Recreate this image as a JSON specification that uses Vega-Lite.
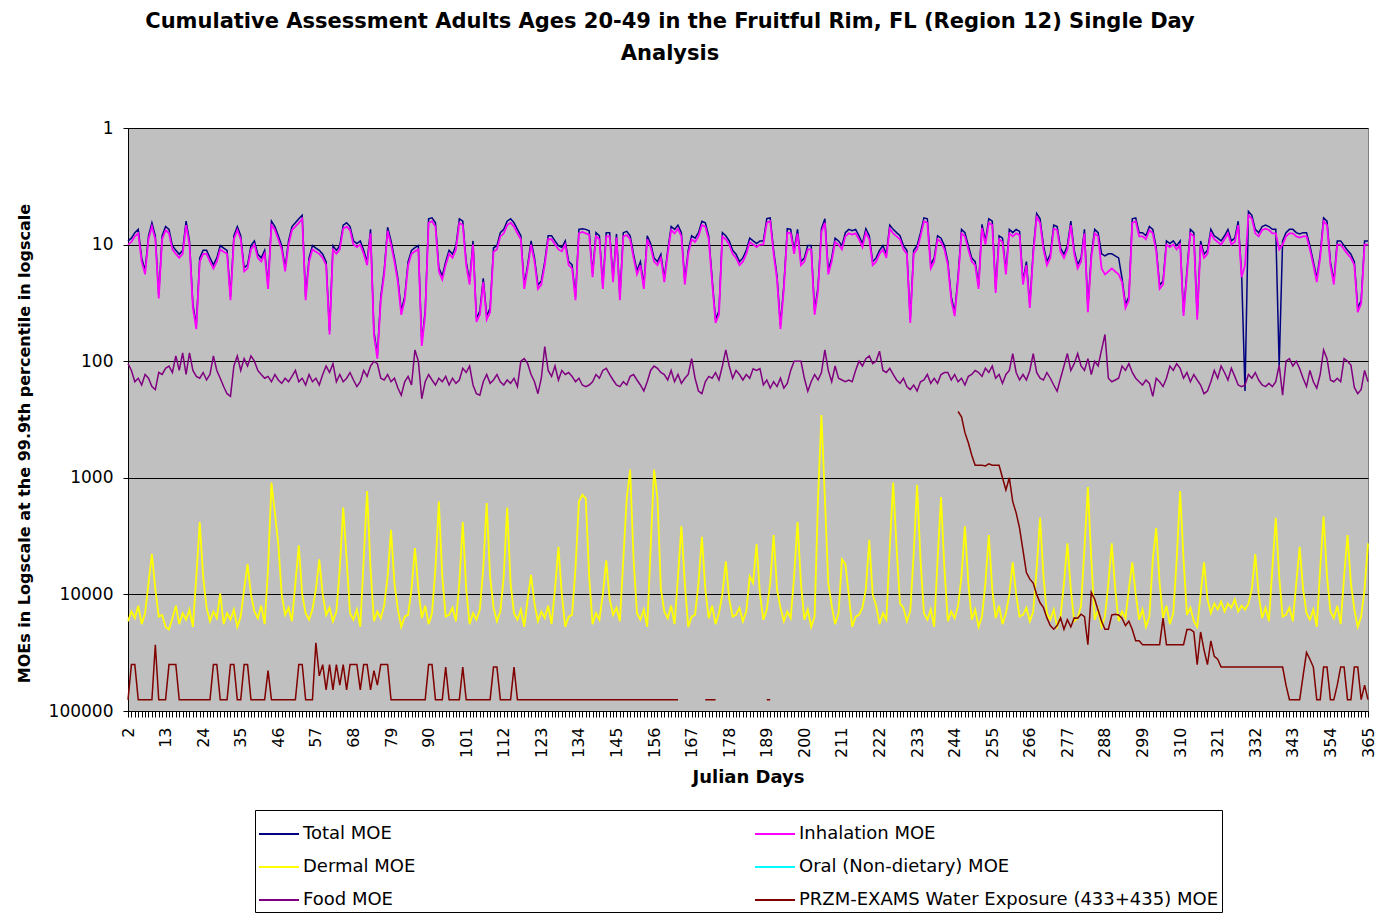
{
"$schema":"https://vega.github.io/schema/vega-lite/v6.json",
"width":1240,"height":583,
"autosize":{"type":"none"},
"padding":{"left":128,"top":128,"right":12,"bottom":205},
"background":"white",
"config":{"view":{"fill":"#C0C0C0","stroke":"#808080"},"font":"DejaVu Sans"},
"title":{"text":["Cumulative Assessment Adults Ages 20-49 in the Fruitful Rim, FL (Region 12) Single Day","Analysis"],"fontSize":21,"fontWeight":"bold","color":"black","anchor":"middle","dx":-78,"lineHeight":32,"offset":55},
"data":{"values":[
{"d":2,"t":9.3,"i":10,"m":17000,"f":105,"w":80000},
{"d":3,"t":8.8,"i":9.5,"m":14000,"f":120,"w":40000},
{"d":4,"t":7.9,"i":8.5,"m":16000,"f":150,"w":40000},
{"d":5,"t":7.4,"i":8,"m":12500,"f":140,"w":80000},
{"d":6,"t":13,"i":14,"m":18000,"f":160,"w":80000},
{"d":7,"t":16.7,"i":18,"m":14500,"f":130,"w":80000},
{"d":8,"t":8.4,"i":9,"m":8000,"f":140,"w":80000},
{"d":9,"t":6.5,"i":7,"m":4500,"f":165,"w":80000},
{"d":10,"t":8.4,"i":9,"m":9000,"f":175,"w":27000},
{"d":11,"t":27,"i":29,"m":15500,"f":125,"w":80000},
{"d":12,"t":8.4,"i":9,"m":15000,"f":130,"w":80000},
{"d":13,"t":7,"i":7.5,"m":19000,"f":115,"w":80000},
{"d":14,"t":7.4,"i":8,"m":20000,"f":110,"w":40000},
{"d":15,"t":10.2,"i":11,"m":16000,"f":125,"w":40000},
{"d":16,"t":11.2,"i":12,"m":12500,"f":90,"w":40000},
{"d":17,"t":12.1,"i":13,"m":18000,"f":120,"w":80000},
{"d":18,"t":11.2,"i":12,"m":14500,"f":85,"w":80000},
{"d":19,"t":6.3,"i":6.8,"m":16500,"f":130,"w":80000},
{"d":20,"t":9.3,"i":10,"m":13500,"f":85,"w":80000},
{"d":21,"t":32.6,"i":35,"m":19000,"f":120,"w":80000},
{"d":22,"t":49,"i":53,"m":7000,"f":135,"w":80000},
{"d":23,"t":13,"i":14,"m":2400,"f":140,"w":80000},
{"d":24,"t":11.2,"i":12,"m":7000,"f":125,"w":80000},
{"d":25,"t":11.2,"i":12,"m":13000,"f":145,"w":80000},
{"d":26,"t":13,"i":14,"m":17000,"f":130,"w":80000},
{"d":27,"t":14.9,"i":16,"m":14000,"f":90,"w":40000},
{"d":28,"t":13,"i":14,"m":16000,"f":120,"w":40000},
{"d":29,"t":10.2,"i":11,"m":9800,"f":140,"w":80000},
{"d":30,"t":10.7,"i":11.5,"m":18000,"f":165,"w":80000},
{"d":31,"t":11.2,"i":12,"m":14500,"f":190,"w":80000},
{"d":32,"t":28,"i":30,"m":16500,"f":200,"w":40000},
{"d":33,"t":8.4,"i":9,"m":13500,"f":110,"w":40000},
{"d":34,"t":7,"i":7.5,"m":19000,"f":90,"w":80000},
{"d":35,"t":8.4,"i":9,"m":15500,"f":120,"w":80000},
{"d":36,"t":15.8,"i":17,"m":9000,"f":95,"w":40000},
{"d":37,"t":14.9,"i":16,"m":5500,"f":110,"w":40000},
{"d":38,"t":10.2,"i":11,"m":10000,"f":90,"w":80000},
{"d":39,"t":9.3,"i":10,"m":14000,"f":100,"w":80000},
{"d":40,"t":12.1,"i":13,"m":16000,"f":120,"w":80000},
{"d":41,"t":13,"i":14,"m":12500,"f":130,"w":80000},
{"d":42,"t":11.2,"i":12,"m":18000,"f":140,"w":80000},
{"d":43,"t":22.3,"i":24,"m":6000,"f":135,"w":45000},
{"d":44,"t":6.3,"i":6.8,"m":1100,"f":150,"w":80000},
{"d":45,"t":7,"i":7.5,"m":2000,"f":130,"w":80000},
{"d":46,"t":8.4,"i":9,"m":3700,"f":145,"w":80000},
{"d":47,"t":10.2,"i":11,"m":10000,"f":155,"w":80000},
{"d":48,"t":15.8,"i":17,"m":15000,"f":140,"w":80000},
{"d":49,"t":9.3,"i":10,"m":13000,"f":150,"w":80000},
{"d":50,"t":7,"i":7.5,"m":17000,"f":135,"w":80000},
{"d":51,"t":6.5,"i":7,"m":8000,"f":120,"w":80000},
{"d":52,"t":6,"i":6.5,"m":3800,"f":150,"w":40000},
{"d":53,"t":5.6,"i":6,"m":10000,"f":140,"w":40000},
{"d":54,"t":28,"i":30,"m":14500,"f":160,"w":80000},
{"d":55,"t":13,"i":14,"m":16500,"f":130,"w":80000},
{"d":56,"t":10.2,"i":11,"m":13500,"f":150,"w":80000},
{"d":57,"t":10.7,"i":11.5,"m":9000,"f":140,"w":26000},
{"d":58,"t":11.2,"i":12,"m":5000,"f":160,"w":50000},
{"d":59,"t":12.1,"i":13,"m":10000,"f":130,"w":40000},
{"d":60,"t":14,"i":15,"m":15000,"f":110,"w":66000},
{"d":61,"t":55,"i":59,"m":13000,"f":125,"w":40000},
{"d":62,"t":10.2,"i":11,"m":17000,"f":105,"w":66000},
{"d":63,"t":11.2,"i":12,"m":14000,"f":150,"w":40000},
{"d":64,"t":10.2,"i":11,"m":6000,"f":130,"w":60000},
{"d":65,"t":6.8,"i":7.3,"m":1800,"f":150,"w":40000},
{"d":66,"t":6.5,"i":7,"m":5000,"f":140,"w":66000},
{"d":67,"t":7,"i":7.5,"m":14500,"f":125,"w":40000},
{"d":68,"t":9.3,"i":10,"m":16500,"f":145,"w":40000},
{"d":69,"t":9.8,"i":10.5,"m":13500,"f":165,"w":40000},
{"d":70,"t":9.3,"i":10,"m":19000,"f":150,"w":66000},
{"d":71,"t":11.2,"i":12,"m":5000,"f":120,"w":40000},
{"d":72,"t":14,"i":15,"m":1300,"f":135,"w":40000},
{"d":73,"t":7.4,"i":8,"m":6000,"f":110,"w":66000},
{"d":74,"t":56,"i":60,"m":17000,"f":100,"w":45000},
{"d":75,"t":88,"i":95,"m":14000,"f":105,"w":60000},
{"d":76,"t":28,"i":30,"m":16000,"f":140,"w":40000},
{"d":77,"t":16.7,"i":18,"m":12500,"f":145,"w":40000},
{"d":78,"t":7.1,"i":7.6,"m":7000,"f":130,"w":40000},
{"d":79,"t":9.3,"i":10,"m":2800,"f":150,"w":80000},
{"d":80,"t":13,"i":14,"m":8000,"f":140,"w":80000},
{"d":81,"t":19.5,"i":21,"m":13500,"f":170,"w":80000},
{"d":82,"t":37,"i":40,"m":19000,"f":196,"w":80000},
{"d":83,"t":28,"i":30,"m":15500,"f":150,"w":80000},
{"d":84,"t":14,"i":15,"m":15000,"f":135,"w":80000},
{"d":85,"t":11.2,"i":12,"m":9000,"f":160,"w":80000},
{"d":86,"t":10.6,"i":11.4,"m":4000,"f":80,"w":80000},
{"d":87,"t":10.2,"i":11,"m":9000,"f":100,"w":80000},
{"d":88,"t":69,"i":74,"m":16000,"f":210,"w":80000},
{"d":89,"t":37,"i":40,"m":12500,"f":150,"w":80000},
{"d":90,"t":6,"i":6.5,"m":18000,"f":130,"w":40000},
{"d":91,"t":5.9,"i":6.3,"m":14500,"f":145,"w":40000},
{"d":92,"t":6.5,"i":7,"m":6000,"f":160,"w":80000},
{"d":93,"t":15.8,"i":17,"m":1600,"f":140,"w":80000},
{"d":94,"t":18.6,"i":20,"m":7000,"f":150,"w":80000},
{"d":95,"t":14,"i":15,"m":15500,"f":135,"w":42000},
{"d":96,"t":11.2,"i":12,"m":15000,"f":160,"w":80000},
{"d":97,"t":12.1,"i":13,"m":13000,"f":140,"w":80000},
{"d":98,"t":10.2,"i":11,"m":17000,"f":155,"w":80000},
{"d":99,"t":6,"i":6.5,"m":8000,"f":145,"w":80000},
{"d":100,"t":6.3,"i":6.8,"m":2400,"f":115,"w":42000},
{"d":101,"t":14,"i":15,"m":9000,"f":125,"w":80000},
{"d":102,"t":20.5,"i":22,"m":18000,"f":110,"w":80000},
{"d":103,"t":9.3,"i":10,"m":14500,"f":160,"w":80000},
{"d":104,"t":43,"i":46,"m":16500,"f":190,"w":80000},
{"d":105,"t":37,"i":40,"m":13500,"f":196,"w":80000},
{"d":106,"t":19.5,"i":21,"m":6000,"f":150,"w":80000},
{"d":107,"t":41,"i":44,"m":1650,"f":130,"w":80000},
{"d":108,"t":35,"i":38,"m":7000,"f":155,"w":80000},
{"d":109,"t":10.7,"i":11.5,"m":13000,"f":145,"w":42000},
{"d":110,"t":10.2,"i":11,"m":17000,"f":130,"w":42000},
{"d":111,"t":7.9,"i":8.5,"m":14000,"f":150,"w":80000},
{"d":112,"t":7.4,"i":8,"m":7000,"f":160,"w":80000},
{"d":113,"t":6.3,"i":6.8,"m":1800,"f":145,"w":80000},
{"d":114,"t":6,"i":6.5,"m":8000,"f":155,"w":80000},
{"d":115,"t":6.5,"i":7,"m":14500,"f":140,"w":42000},
{"d":116,"t":7.4,"i":8,"m":16500,"f":165,"w":80000},
{"d":117,"t":8.4,"i":9,"m":13500,"f":100,"w":80000},
{"d":118,"t":22.3,"i":24,"m":19000,"f":95,"w":80000},
{"d":119,"t":14.9,"i":16,"m":11000,"f":105,"w":80000},
{"d":120,"t":9.3,"i":10,"m":6800,"f":130,"w":80000},
{"d":121,"t":13,"i":14,"m":12000,"f":150,"w":80000},
{"d":122,"t":22.3,"i":24,"m":17000,"f":190,"w":80000},
{"d":123,"t":20.5,"i":22,"m":14000,"f":140,"w":80000},
{"d":124,"t":14,"i":15,"m":16000,"f":75,"w":80000},
{"d":125,"t":8.4,"i":9,"m":12500,"f":120,"w":80000},
{"d":126,"t":8.4,"i":9,"m":18000,"f":135,"w":80000},
{"d":127,"t":9.3,"i":10,"m":9000,"f":110,"w":80000},
{"d":128,"t":10.2,"i":11,"m":3900,"f":145,"w":80000},
{"d":129,"t":10.6,"i":11.4,"m":10000,"f":120,"w":80000},
{"d":130,"t":9.3,"i":10,"m":19000,"f":130,"w":80000},
{"d":131,"t":14,"i":15,"m":15500,"f":125,"w":80000},
{"d":132,"t":14.9,"i":16,"m":15000,"f":135,"w":80000},
{"d":133,"t":28,"i":30,"m":6000,"f":150,"w":80000},
{"d":134,"t":7.4,"i":8,"m":1600,"f":140,"w":80000},
{"d":135,"t":7.3,"i":7.8,"m":1400,"f":160,"w":80000},
{"d":136,"t":7.4,"i":8,"m":1500,"f":165,"w":80000},
{"d":137,"t":7.6,"i":8.2,"m":7000,"f":160,"w":80000},
{"d":138,"t":17.7,"i":19,"m":18000,"f":150,"w":80000},
{"d":139,"t":7.9,"i":8.5,"m":14500,"f":130,"w":80000},
{"d":140,"t":8.4,"i":9,"m":16500,"f":140,"w":80000},
{"d":141,"t":22.3,"i":24,"m":10000,"f":120,"w":80000},
{"d":142,"t":7.9,"i":8.5,"m":5100,"f":115,"w":80000},
{"d":143,"t":7.9,"i":8.5,"m":11000,"f":130,"w":80000},
{"d":144,"t":19.5,"i":21,"m":15000,"f":145,"w":80000},
{"d":145,"t":8.1,"i":8.7,"m":13000,"f":160,"w":80000},
{"d":146,"t":28,"i":30,"m":17000,"f":165,"w":80000},
{"d":147,"t":7.9,"i":8.5,"m":5000,"f":150,"w":80000},
{"d":148,"t":7.7,"i":8.3,"m":1500,"f":160,"w":80000},
{"d":149,"t":8.4,"i":9,"m":850,"f":135,"w":80000},
{"d":150,"t":12.1,"i":13,"m":5000,"f":130,"w":80000},
{"d":151,"t":16.7,"i":18,"m":14500,"f":145,"w":80000},
{"d":152,"t":14,"i":15,"m":16500,"f":160,"w":80000},
{"d":153,"t":22.3,"i":24,"m":13500,"f":180,"w":80000},
{"d":154,"t":8.4,"i":9,"m":19000,"f":150,"w":80000},
{"d":155,"t":9.8,"i":10.5,"m":4000,"f":120,"w":80000},
{"d":156,"t":13,"i":14,"m":850,"f":110,"w":80000},
{"d":157,"t":14,"i":15,"m":1500,"f":115,"w":80000},
{"d":158,"t":12.1,"i":13,"m":9000,"f":125,"w":80000},
{"d":159,"t":19.5,"i":21,"m":14000,"f":130,"w":80000},
{"d":160,"t":11.2,"i":12,"m":16000,"f":145,"w":80000},
{"d":161,"t":7,"i":7.5,"m":12500,"f":120,"w":80000},
{"d":162,"t":7.4,"i":8,"m":18000,"f":150,"w":80000},
{"d":163,"t":6.8,"i":7.3,"m":7000,"f":130,"w":80000},
{"d":164,"t":7.9,"i":8.5,"m":2600,"f":155},
{"d":165,"t":20.5,"i":22,"m":8000,"f":140},
{"d":166,"t":11.2,"i":12,"m":19000,"f":130},
{"d":167,"t":8.4,"i":9,"m":15500,"f":95},
{"d":168,"t":8.8,"i":9.5,"m":15000,"f":140},
{"d":169,"t":7.9,"i":8.5,"m":8000,"f":180},
{"d":170,"t":6.3,"i":6.8,"m":3200,"f":190},
{"d":171,"t":6.5,"i":7,"m":9000,"f":150,"w":80000},
{"d":172,"t":8.4,"i":9,"m":16000,"f":135,"w":80000},
{"d":173,"t":19.5,"i":21,"m":12500,"f":140,"w":80000},
{"d":174,"t":44,"i":47,"m":18000,"f":125,"w":80000},
{"d":175,"t":37,"i":40,"m":14500,"f":145},
{"d":176,"t":7.9,"i":8.5,"m":10000,"f":110},
{"d":177,"t":8.4,"i":9,"m":5200,"f":80},
{"d":178,"t":9.3,"i":10,"m":11000,"f":110},
{"d":179,"t":11.2,"i":12,"m":15500,"f":140},
{"d":180,"t":12.1,"i":13,"m":15000,"f":120},
{"d":181,"t":14,"i":15,"m":13000,"f":130},
{"d":182,"t":13,"i":14,"m":17000,"f":145},
{"d":183,"t":11.2,"i":12,"m":14000,"f":130},
{"d":184,"t":8.8,"i":9.5,"m":7000,"f":140},
{"d":185,"t":9.3,"i":10,"m":8000,"f":116},
{"d":186,"t":9.8,"i":10.5,"m":3700,"f":120},
{"d":187,"t":9.3,"i":10,"m":10000,"f":116},
{"d":188,"t":9.3,"i":10,"m":16500,"f":160},
{"d":189,"t":6,"i":6.5,"m":13500,"f":145,"w":80000},
{"d":190,"t":5.9,"i":6.3,"m":8000,"f":170,"w":80000},
{"d":191,"t":11.2,"i":12,"m":3100,"f":150},
{"d":192,"t":18.6,"i":20,"m":9000,"f":165},
{"d":193,"t":49,"i":53,"m":13000,"f":140},
{"d":194,"t":22.3,"i":24,"m":17000,"f":170},
{"d":195,"t":7.3,"i":7.9,"m":14000,"f":155},
{"d":196,"t":7.4,"i":8,"m":16000,"f":120},
{"d":197,"t":11.2,"i":12,"m":7000,"f":100},
{"d":198,"t":7.4,"i":8,"m":2400,"f":100},
{"d":199,"t":14,"i":15,"m":8000,"f":100},
{"d":200,"t":13,"i":14,"m":16500,"f":140},
{"d":201,"t":10.2,"i":11,"m":13500,"f":181},
{"d":202,"t":10.2,"i":11,"m":19000,"f":150},
{"d":203,"t":37,"i":40,"m":15500,"f":130},
{"d":204,"t":23,"i":25,"m":1500,"f":145},
{"d":205,"t":7.3,"i":7.8,"m":290,"f":125},
{"d":206,"t":6,"i":6.5,"m":1500,"f":80},
{"d":207,"t":16.7,"i":18,"m":8000,"f":120},
{"d":208,"t":13,"i":14,"m":12500,"f":150},
{"d":209,"t":8.8,"i":9.5,"m":18000,"f":110},
{"d":210,"t":9.3,"i":10,"m":14500,"f":140},
{"d":211,"t":10.2,"i":11,"m":5000,"f":145},
{"d":212,"t":7.9,"i":8.5,"m":5500,"f":150},
{"d":213,"t":7.4,"i":8,"m":10000,"f":145},
{"d":214,"t":7.6,"i":8.2,"m":19000,"f":150},
{"d":215,"t":7.4,"i":8,"m":15500,"f":120},
{"d":216,"t":8.4,"i":9,"m":15000,"f":100},
{"d":217,"t":9.8,"i":10.5,"m":13000,"f":110},
{"d":218,"t":7.3,"i":7.9,"m":9000,"f":95},
{"d":219,"t":8.4,"i":9,"m":3400,"f":90},
{"d":220,"t":14,"i":15,"m":10000,"f":105},
{"d":221,"t":13,"i":14,"m":12500,"f":100},
{"d":222,"t":11.2,"i":12,"m":18000,"f":82},
{"d":223,"t":10.2,"i":11,"m":14500,"f":120},
{"d":224,"t":12.1,"i":13,"m":16500,"f":125},
{"d":225,"t":6.8,"i":7.3,"m":4000,"f":115},
{"d":226,"t":7.4,"i":8,"m":1100,"f":130},
{"d":227,"t":7.9,"i":8.5,"m":4000,"f":145},
{"d":228,"t":8.4,"i":9,"m":12000,"f":155},
{"d":229,"t":10.2,"i":11,"m":13000,"f":140},
{"d":230,"t":11.2,"i":12,"m":17000,"f":165},
{"d":231,"t":44,"i":47,"m":14000,"f":175},
{"d":232,"t":11.2,"i":12,"m":4500,"f":160},
{"d":233,"t":10.2,"i":11,"m":1150,"f":180},
{"d":234,"t":7.9,"i":8.5,"m":5000,"f":150},
{"d":235,"t":5.9,"i":6.3,"m":14500,"f":145},
{"d":236,"t":6,"i":6.5,"m":16500,"f":130},
{"d":237,"t":14.9,"i":16,"m":13500,"f":155},
{"d":238,"t":13,"i":14,"m":19000,"f":140},
{"d":239,"t":8.4,"i":9,"m":5000,"f":155},
{"d":240,"t":8.8,"i":9.5,"m":1460,"f":130},
{"d":241,"t":10.2,"i":11,"m":6000,"f":125},
{"d":242,"t":14,"i":15,"m":17000,"f":125},
{"d":243,"t":28,"i":30,"m":14000,"f":145},
{"d":244,"t":38,"i":41,"m":16000,"f":130},
{"d":245,"t":18.6,"i":20,"m":12500,"f":150,"w":270},
{"d":246,"t":7.4,"i":8,"m":7000,"f":140,"w":300},
{"d":247,"t":7.9,"i":8.5,"m":2600,"f":160,"w":410},
{"d":248,"t":10.2,"i":11,"m":8000,"f":135,"w":500},
{"d":249,"t":13,"i":14,"m":16500,"f":130,"w":640},
{"d":250,"t":14,"i":15,"m":13500,"f":120,"w":780},
{"d":251,"t":22.3,"i":24,"m":19000,"f":125,"w":780},
{"d":252,"t":6.7,"i":7.2,"m":15500,"f":135,"w":780},
{"d":253,"t":9.3,"i":10,"m":8000,"f":115,"w":790},
{"d":254,"t":6,"i":6.5,"m":3100,"f":125,"w":760},
{"d":255,"t":6.3,"i":6.8,"m":9000,"f":110,"w":780},
{"d":256,"t":24,"i":26,"m":16000,"f":140,"w":780},
{"d":257,"t":8.4,"i":9,"m":12500,"f":130,"w":780},
{"d":258,"t":8.8,"i":9.5,"m":18000,"f":155,"w":1000},
{"d":259,"t":16.7,"i":18,"m":14500,"f":130,"w":1270},
{"d":260,"t":7.4,"i":8,"m":10000,"f":120,"w":1000},
{"d":261,"t":7.9,"i":8.5,"m":5300,"f":86,"w":1600},
{"d":262,"t":7.4,"i":8,"m":10000,"f":125,"w":2000},
{"d":263,"t":7.7,"i":8.3,"m":15500,"f":145,"w":2700},
{"d":264,"t":20.5,"i":22,"m":15000,"f":130,"w":4200},
{"d":265,"t":14,"i":15,"m":13000,"f":145,"w":6500},
{"d":266,"t":32.6,"i":35,"m":17000,"f":120,"w":7400},
{"d":267,"t":11.2,"i":12,"m":14000,"f":86,"w":8000},
{"d":268,"t":5.4,"i":5.8,"m":6000,"f":125,"w":10000},
{"d":269,"t":6,"i":6.5,"m":2200,"f":140,"w":11800},
{"d":270,"t":10.2,"i":11,"m":7000,"f":145,"w":13000},
{"d":271,"t":14,"i":15,"m":14500,"f":125,"w":15900},
{"d":272,"t":12.1,"i":13,"m":16500,"f":140,"w":18500},
{"d":273,"t":6.8,"i":7.3,"m":13500,"f":160,"w":19900},
{"d":274,"t":7,"i":7.5,"m":19000,"f":181,"w":18500},
{"d":275,"t":10.7,"i":11.5,"m":15500,"f":140,"w":15900},
{"d":276,"t":12.1,"i":13,"m":8000,"f":110,"w":19900},
{"d":277,"t":10.2,"i":11,"m":3650,"f":86,"w":16500},
{"d":278,"t":6.3,"i":6.8,"m":9000,"f":120,"w":19000},
{"d":279,"t":11.2,"i":12,"m":17000,"f":105,"w":15900},
{"d":280,"t":14.9,"i":16,"m":16000,"f":86,"w":16000},
{"d":281,"t":13,"i":14,"m":12500,"f":110,"w":14800},
{"d":282,"t":7.4,"i":8,"m":4000,"f":120,"w":15500},
{"d":283,"t":35,"i":38,"m":1200,"f":95,"w":27000},
{"d":284,"t":12.1,"i":13,"m":5000,"f":130,"w":9600},
{"d":285,"t":7.4,"i":8,"m":16500,"f":100,"w":11000},
{"d":286,"t":7.9,"i":8.5,"m":13500,"f":110,"w":13700},
{"d":287,"t":12,"i":16,"m":19000,"f":80,"w":17000},
{"d":288,"t":12.5,"i":18,"m":15500,"f":59,"w":19900},
{"d":289,"t":12,"i":17,"m":8000,"f":140,"w":19900},
{"d":290,"t":12,"i":16,"m":3650,"f":150,"w":15000},
{"d":291,"t":12.5,"i":17,"m":9000,"f":145,"w":14800},
{"d":292,"t":13,"i":18,"m":17000,"f":140,"w":15000},
{"d":293,"t":19.5,"i":21,"m":14000,"f":110,"w":16000},
{"d":294,"t":32.6,"i":35,"m":16000,"f":120,"w":18500},
{"d":295,"t":28,"i":30,"m":9000,"f":105,"w":17000},
{"d":296,"t":6,"i":6.5,"m":5300,"f":125,"w":20000},
{"d":297,"t":5.9,"i":6.3,"m":10000,"f":140,"w":25000},
{"d":298,"t":7.9,"i":8.5,"m":16500,"f":150,"w":25000},
{"d":299,"t":7.9,"i":8.5,"m":13500,"f":160,"w":27000},
{"d":300,"t":8.4,"i":9,"m":19000,"f":145,"w":27000},
{"d":301,"t":7,"i":7.5,"m":15500,"f":155,"w":27000},
{"d":302,"t":7.4,"i":8,"m":5000,"f":200,"w":27000},
{"d":303,"t":10.6,"i":11.4,"m":2700,"f":140,"w":27000},
{"d":304,"t":22.3,"i":24,"m":8000,"f":150,"w":27000},
{"d":305,"t":20.5,"i":22,"m":16000,"f":165,"w":16000},
{"d":306,"t":9.3,"i":10,"m":12500,"f":140,"w":27000},
{"d":307,"t":9.8,"i":10.5,"m":18000,"f":110,"w":27000},
{"d":308,"t":9.3,"i":10,"m":14500,"f":120,"w":27000},
{"d":309,"t":10.2,"i":11,"m":5000,"f":105,"w":27000},
{"d":310,"t":9.3,"i":10,"m":1300,"f":115,"w":27000},
{"d":311,"t":38,"i":41,"m":5000,"f":140,"w":27000},
{"d":312,"t":16.7,"i":18,"m":15000,"f":125,"w":20000},
{"d":313,"t":7.4,"i":8,"m":13000,"f":150,"w":20000},
{"d":314,"t":7.9,"i":8.5,"m":17000,"f":130,"w":21000},
{"d":315,"t":41,"i":44,"m":19000,"f":145,"w":40000},
{"d":316,"t":9.3,"i":10,"m":10000,"f":160,"w":21000},
{"d":317,"t":12.1,"i":13,"m":5300,"f":190,"w":30000},
{"d":318,"t":11.2,"i":12,"m":11000,"f":180,"w":40000},
{"d":319,"t":7.4,"i":8,"m":14500,"f":150,"w":25000},
{"d":320,"t":8.4,"i":9,"m":12000,"f":120,"w":34000},
{"d":321,"t":8.8,"i":9.5,"m":13500,"f":140,"w":36000},
{"d":322,"t":9.3,"i":10,"m":11500,"f":110,"w":42000},
{"d":323,"t":8.4,"i":9,"m":14000,"f":125,"w":42000},
{"d":324,"t":7.4,"i":8,"m":12000,"f":145,"w":42000},
{"d":325,"t":9.3,"i":10,"m":13000,"f":115,"w":42000},
{"d":326,"t":8.8,"i":9.5,"m":11000,"f":135,"w":42000},
{"d":327,"t":6.3,"i":6.8,"m":14000,"f":160,"w":42000},
{"d":328,"t":17.7,"i":19,"m":12500,"f":165,"w":42000},
{"d":329,"t":180,"i":15,"m":13500,"f":160,"w":42000},
{"d":330,"t":5.2,"i":5.6,"m":12000,"f":130,"w":42000},
{"d":331,"t":5.6,"i":6,"m":9000,"f":140,"w":42000},
{"d":332,"t":7.4,"i":8,"m":4500,"f":125,"w":42000},
{"d":333,"t":7.9,"i":8.5,"m":10000,"f":145,"w":42000},
{"d":334,"t":7,"i":7.5,"m":16000,"f":160,"w":42000},
{"d":335,"t":6.8,"i":7.3,"m":13000,"f":165,"w":42000},
{"d":336,"t":7,"i":7.5,"m":17000,"f":155,"w":42000},
{"d":337,"t":7.4,"i":8,"m":6000,"f":165,"w":42000},
{"d":338,"t":7.4,"i":8,"m":2200,"f":150,"w":42000},
{"d":339,"t":110,"i":11,"m":7000,"f":108,"w":42000},
{"d":340,"t":9.3,"i":10,"m":15500,"f":196,"w":42000},
{"d":341,"t":7.9,"i":8.5,"m":15000,"f":100,"w":60000},
{"d":342,"t":7.4,"i":8,"m":13000,"f":95,"w":80000},
{"d":343,"t":7.4,"i":8,"m":17000,"f":110,"w":80000},
{"d":344,"t":7.9,"i":8.5,"m":8000,"f":100,"w":80000},
{"d":345,"t":8.1,"i":8.7,"m":3900,"f":116,"w":80000},
{"d":346,"t":7.9,"i":8.5,"m":9000,"f":140,"w":50000},
{"d":347,"t":7.9,"i":8.5,"m":14500,"f":165,"w":31500},
{"d":348,"t":10.2,"i":11,"m":16500,"f":120,"w":36000},
{"d":349,"t":14,"i":15,"m":13500,"f":150,"w":42000},
{"d":350,"t":19.5,"i":21,"m":19000,"f":170,"w":80000},
{"d":351,"t":12.1,"i":13,"m":6000,"f":130,"w":80000},
{"d":352,"t":5.9,"i":6.3,"m":2150,"f":80,"w":42000},
{"d":353,"t":6.3,"i":6.8,"m":7000,"f":95,"w":42000},
{"d":354,"t":14,"i":15,"m":14000,"f":145,"w":80000},
{"d":355,"t":20.5,"i":22,"m":16000,"f":150,"w":80000},
{"d":356,"t":9.3,"i":10,"m":12500,"f":140,"w":60000},
{"d":357,"t":9.3,"i":10,"m":18000,"f":150,"w":42000},
{"d":358,"t":10.2,"i":11,"m":7000,"f":95,"w":42000},
{"d":359,"t":11.2,"i":12,"m":3100,"f":100,"w":80000},
{"d":360,"t":12.1,"i":13,"m":8000,"f":108,"w":80000},
{"d":361,"t":14,"i":15,"m":13500,"f":168,"w":42000},
{"d":362,"t":35,"i":38,"m":19000,"f":190,"w":42000},
{"d":363,"t":30,"i":32,"m":15500,"f":175,"w":80000},
{"d":364,"t":9.3,"i":10,"m":9000,"f":120,"w":60000},
{"d":365,"t":9.3,"i":10,"m":3650,"f":150,"w":80000}
]},
"transform":[{"fold":["t","i","m","f","w"],"as":["s","v"]}],
"encoding":{
"x":{"field":"d","type":"quantitative","scale":{"domain":[2,365],"nice":false,"zero":false},
"axis":{"values":[2,3,4,5,6,7,8,9,10,11,12,13,14,15,16,17,18,19,20,21,22,23,24,25,26,27,28,29,30,31,32,33,34,35,36,37,38,39,40,41,42,43,44,45,46,47,48,49,50,51,52,53,54,55,56,57,58,59,60,61,62,63,64,65,66,67,68,69,70,71,72,73,74,75,76,77,78,79,80,81,82,83,84,85,86,87,88,89,90,91,92,93,94,95,96,97,98,99,100,101,102,103,104,105,106,107,108,109,110,111,112,113,114,115,116,117,118,119,120,121,122,123,124,125,126,127,128,129,130,131,132,133,134,135,136,137,138,139,140,141,142,143,144,145,146,147,148,149,150,151,152,153,154,155,156,157,158,159,160,161,162,163,164,165,166,167,168,169,170,171,172,173,174,175,176,177,178,179,180,181,182,183,184,185,186,187,188,189,190,191,192,193,194,195,196,197,198,199,200,201,202,203,204,205,206,207,208,209,210,211,212,213,214,215,216,217,218,219,220,221,222,223,224,225,226,227,228,229,230,231,232,233,234,235,236,237,238,239,240,241,242,243,244,245,246,247,248,249,250,251,252,253,254,255,256,257,258,259,260,261,262,263,264,265,266,267,268,269,270,271,272,273,274,275,276,277,278,279,280,281,282,283,284,285,286,287,288,289,290,291,292,293,294,295,296,297,298,299,300,301,302,303,304,305,306,307,308,309,310,311,312,313,314,315,316,317,318,319,320,321,322,323,324,325,326,327,328,329,330,331,332,333,334,335,336,337,338,339,340,341,342,343,344,345,346,347,348,349,350,351,352,353,354,355,356,357,358,359,360,361,362,363,364,365],
"labelExpr":"(datum.value - 2) % 11 == 0 ? '' + datum.value : ''",
"labelAngle":-90,"labelAlign":"right","labelBaseline":"middle","labelFontSize":16,"labelColor":"black","labelOverlap":false,"labelBound":false,"labelFlush":false,"labelPadding":10,
"tickColor":"black","tickSize":6,"domainColor":"black","grid":false,
"title":"Julian Days","titleFontSize":18,"titleFontWeight":"bold","titleColor":"black","titlePadding":11}},
"y":{"field":"v","type":"quantitative","scale":{"type":"log","domain":[1,100000],"reverse":true,"nice":false},
"axis":{"values":[1,10,100,1000,10000,100000],"format":"d","labelFontSize":17,"labelColor":"black","labelPadding":10,"tickColor":"black","tickSize":5,"domainColor":"black","grid":true,"gridColor":"black","gridOpacity":1,
"title":"MOEs in Logscale at the 99.9th percentile in logscale","titleFontSize":16,"titleFontWeight":"bold","titleColor":"black","titlePadding":16,"titleY":315}},
"color":{"field":"s","type":"nominal","scale":{"domain":["t","m","f","i","o","w"],"range":["#000080","#FFFF00","#800080","#FF00FF","#00FFFF","#800000"]},
"legend":{"orient":"none","legendX":127,"legendY":682,"columns":2,"title":null,"symbolType":"stroke","symbolSize":1600,"symbolStrokeWidth":2,"labelFontSize":18,"labelColor":"black","labelLimit":600,"labelOffset":3,"strokeColor":"black","fillColor":"white","padding":3,"rowPadding":3,"columnPadding":335,
"labelExpr":"datum.label=='t'?'Total MOE':datum.label=='i'?'Inhalation MOE':datum.label=='m'?'Dermal MOE':datum.label=='o'?'Oral (Non-dietary) MOE':datum.label=='f'?'Food MOE':'PRZM-EXAMS Water Exposure (433+435) MOE'"}}
},
"layer":[
{"transform":[{"filter":"datum.s=='t'"}],"mark":{"type":"line","strokeWidth":1.5}},
{"transform":[{"filter":"datum.s=='i'"}],"mark":{"type":"line","strokeWidth":1.8}},
{"transform":[{"filter":"datum.s=='m'"}],"mark":{"type":"line","strokeWidth":1.8}},
{"transform":[{"filter":"datum.s=='f'"}],"mark":{"type":"line","strokeWidth":1.5}},
{"transform":[{"filter":"datum.s=='w'"}],"mark":{"type":"line","strokeWidth":1.5,"invalid":"break-paths-filter-domains"}}
]
}
